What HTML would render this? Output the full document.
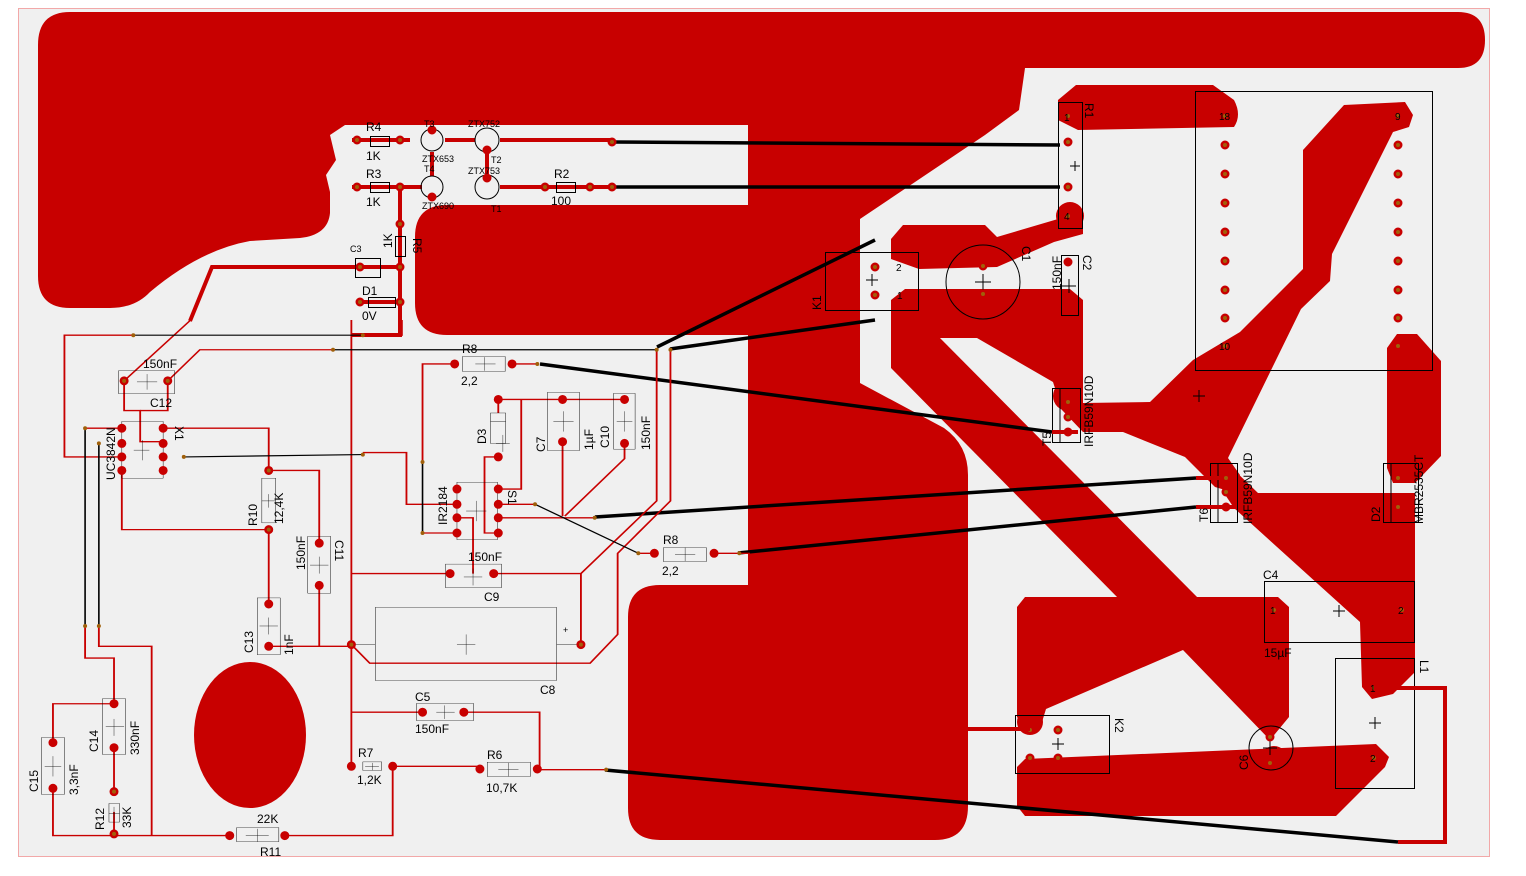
<!DOCTYPE html>
<html><head><meta charset="utf-8"><style>
html,body{margin:0;padding:0;background:#fff;}
svg{display:block;}
text{font-family:"Liberation Sans Narrow","Liberation Sans",sans-serif;font-size:12px;fill:#000;}
.b{fill:none;stroke:#000;stroke-width:1;vector-effect:non-scaling-stroke;}
.r{fill:none;stroke:#c80000;stroke-width:4;stroke-linejoin:miter;vector-effect:non-scaling-stroke;}
.k{fill:none;stroke:#000;stroke-width:3.5;vector-effect:non-scaling-stroke;}
.p{fill:none;stroke:#c80000;stroke-width:9;stroke-linecap:round;vector-effect:non-scaling-stroke;}
.d{fill:none;stroke:#a0600a;stroke-width:4;stroke-linecap:round;vector-effect:non-scaling-stroke;}
</style></head><body>
<svg width="1526" height="876" viewBox="0 0 1526 876" xmlns="http://www.w3.org/2000/svg">
<rect x="18.5" y="8.5" width="1471" height="848" fill="#f0f0f0" stroke="#f2a8a8"/>
<g fill="#c80000">
<path d="M38,45 Q38,12 70,12 H1458 Q1485,12 1485,40 Q1485,68 1458,68 H1025 L1019,110 L985,135 L860,219 V383 L944,428 Q968,445 968,475 V806 Q968,840 935,840 H660 Q628,840 628,808 V617 Q628,585 660,585 H748 V335 H447 Q415,335 415,303 V237 Q415,205 447,205 H748 V125 H345 L330,135 L336,160 L326,175 L330,192 V213 Q328,235 300,238 L250,241 Q200,250 150,292 Q135,308 110,308 H70 Q38,308 38,276 Z"/>
<ellipse cx="250" cy="735" rx="56" ry="73"/>
<polygon points="891,239 903,225 985,225 997,237 1058,219 1083,214 1083,234 1054,242 997,267 919,269 891,259"/>
<circle cx="1070" cy="216" r="14"/>
<path d="M1058,100 L1076,85 H1213 L1234,100 Q1242,115 1234,127 L1078,130 L1058,120 Z"/>
<polygon points="891,300 905,289 1070,289 1083,300 1083,403 1150,402 1193,360 1240,332 1303,269 1303,150 1344,105 1405,102 1413,115 1409,127 1393,132 1332,254 1330,281 1301,309 1228,458 1240,475 1232,492 1215,487 1185,457 1123,432 1083,432 1062,410 1053,382 977,338 891,338"/>
<circle cx="1068" cy="396" r="15"/>
<polygon points="891,336 938,336 1200,600 1120,600 891,368"/>
<polygon points="1017,607 1025,597 1278,597 1289,607 1289,717 1270,740 1183,650 1046,709 1042,722 1030,732 1017,717"/>
<circle cx="1030" cy="722" r="13"/>
<polygon points="1017,767 1025,759 1376,744 1389,757 1385,767 1336,816 1025,816 1017,806"/>
<circle cx="1274" cy="760" r="14"/>
<polygon points="1232,468 1258,493 1415,493 1415,672 1393,694 1372,699 1362,687 1360,622 1234,508 1222,490"/>
<polygon points="1387,348 1397,334 1417,334 1441,361 1441,456 1415,483 1393,483 1387,468"/>
</g>
<g>
<rect class="b" x="1195.5" y="91.5" width="237" height="279"/>
<rect class="b" x="1058.5" y="102.5" width="24" height="126"/>
<rect class="b" x="825.5" y="252.5" width="93" height="58"/>
<circle class="b" cx="983" cy="282" r="37"/>
<rect class="b" x="1061.5" y="255.5" width="17" height="60"/>
<rect class="b" x="1052.5" y="388.5" width="28" height="54"/>
<line class="b" x1="1060" y1="389" x2="1060" y2="442"/>
<rect class="b" x="1210.5" y="463.5" width="27" height="59"/>
<line class="b" x1="1218" y1="464" x2="1218" y2="522"/>
<rect class="b" x="1383.5" y="463.5" width="35" height="59"/>
<line class="b" x1="1391" y1="464" x2="1391" y2="522"/>
<rect class="b" x="1264.5" y="581.5" width="150" height="61"/>
<rect class="b" x="1335.5" y="658.5" width="79" height="130"/>
<rect class="b" x="1015.5" y="715.5" width="94" height="58"/>
<circle class="b" cx="1271" cy="748" r="22"/>
</g>
<g stroke="#000" stroke-width="1">
<path d="M1070,166 h10 M1075,161 v10 M866,280 h12 M872,274 v12 M975,282 h16 M983,274 v16 M1062,286 h14 M1069,279 v14 M1193,396 h12 M1199,390 v12 M1333,611 h12 M1339,605 v12 M1369,723 h12 M1375,717 v12 M1052,744 h12 M1058,738 v12 M1263,748 h14 M1270,741 v14"/>
</g>
<g>
<path class="p" d="M1068,116h0M1068,142h0M1068,187h0M1068,216h0M875,267h0M875,295h0M983,266h0M983,294h0M1068,262h0M1068,305h0M1068,402h0M1068,417h0M1068,432h0M1226,478h0M1226,492h0M1226,507h0M1398,478h0M1398,507h0M1274,610h0M1402,610h0M1374,688h0M1374,758h0M1030,730h0M1058,730h0M1030,758h0M1058,758h0M1270,737h0M1270,763h0"/>
<path class="p" d="M1225,116h0M1225,145h0M1225,174h0M1225,203h0M1225,232h0M1225,261h0M1225,290h0M1225,318h0M1225,346h0M1398,116h0M1398,145h0M1398,174h0M1398,203h0M1398,232h0M1398,261h0M1398,290h0M1398,318h0M1398,346h0"/>
<path class="d" d="M1068,116h0M1068,142h0M1068,187h0M1068,216h0M875,267h0M875,295h0M983,266h0M983,294h0M1068,402h0M1068,417h0M1068,432h0M1226,478h0M1226,492h0M1226,507h0M1398,478h0M1398,507h0M1274,610h0M1402,610h0M1374,688h0M1374,758h0M1030,730h0M1058,730h0M1030,758h0M1058,758h0M1270,737h0M1270,763h0M1225,116h0M1225,145h0M1225,174h0M1225,203h0M1225,232h0M1225,261h0M1225,290h0M1225,318h0M1225,346h0M1398,116h0M1398,145h0M1398,174h0M1398,203h0M1398,232h0M1398,261h0M1398,290h0M1398,318h0M1398,346h0"/>
</g>
<polyline class="r" points="1374,688 1445,688 1445,842 1398,842"/>
<polyline class="r" points="968,729 1030,729"/>
<polyline class="r" points="1052,432 1078,432"/>
<polyline class="r" points="1196,507 1236,507"/>
<polyline class="r" points="1196,478 1222,478"/>
<g class="k">
<line x1="612" y1="142" x2="1060" y2="145"/>
<line x1="612" y1="187" x2="1060" y2="187"/>
<polyline points="657,347 875,240"/>
<polyline points="670,349 875,320"/>
<line x1="540" y1="364" x2="1052" y2="432"/>
<line x1="595" y1="517" x2="1196" y2="478"/>
<line x1="738" y1="553" x2="1196" y2="507"/>
<line x1="605" y1="770" x2="1398" y2="842"/>
</g>
<g>
<polyline class="r" points="352,140 410,140"/>
<polyline class="r" points="445,140 475,140"/>
<polyline class="r" points="500,140 612,140"/>
<polyline class="r" points="352,187 422,187"/>
<polyline class="r" points="500,187 612,187"/>
<polyline class="r" points="487,152 487,176"/>
<polyline class="r" points="432,152 432,176"/>
<polyline class="r" points="400,187 400,335 351,335"/>
<polyline class="r" points="190,321 212,267 356,267"/>
<polyline class="r" points="356,267 400,267"/>
<polyline class="r" points="356,302 400,302"/>
<rect class="b" x="370.5" y="136.5" width="19" height="10"/>
<rect class="b" x="370.5" y="182.5" width="19" height="10"/>
<rect class="b" x="556.5" y="182.5" width="19" height="10"/>
<rect class="b" x="395.5" y="236.5" width="10" height="20"/>
<rect class="b" x="355.5" y="258.5" width="25" height="19"/>
<rect class="b" x="368.5" y="297.5" width="27" height="10"/>
<circle class="b" cx="432" cy="140" r="11"/>
<circle class="b" cx="432" cy="187" r="11"/>
<circle class="b" cx="487" cy="140" r="12"/>
<circle class="b" cx="487" cy="187" r="12"/>
<path class="p" d="M357,140h0M400,140h0M357,187h0M400,187h0M545,187h0M590,187h0M400,224h0M400,267h0M360,267h0M400,302h0M360,302h0M432,130h0M432,197h0M487,150h0M487,178h0M612,142h0M612,187h0"/>
<path class="d" d="M357,140h0M400,140h0M357,187h0M400,187h0M545,187h0M590,187h0M400,224h0M400,267h0M360,267h0M400,302h0M360,302h0M612,142h0M612,187h0"/>
</g>
<g style="font-size:11px">
<text x="366" y="131">R4</text><text x="366" y="160">1K</text>
<text x="366" y="178">R3</text><text x="366" y="206">1K</text>
<text x="424" y="127" style="font-size:9px">T3</text><text x="422" y="162" style="font-size:9px">ZTX653</text>
<text x="424" y="172" style="font-size:9px">T4</text><text x="422" y="209" style="font-size:9px">ZTX690</text>
<text x="468" y="127" style="font-size:9px">ZTX752</text><text x="491" y="163" style="font-size:9px">T2</text>
<text x="468" y="174" style="font-size:9px">ZTX753</text><text x="491" y="212" style="font-size:9px">T1</text>
<text x="554" y="178">R2</text><text x="551" y="205">100</text>
<text x="392" y="248" transform="rotate(-90 392 248)">1K</text>
<text x="413" y="238" transform="rotate(90 413 238)">R5</text>
<text x="350" y="252" style="font-size:9px">C3</text>
<text x="362" y="295">D1</text><text x="362" y="320">0V</text>
<text x="1085" y="103" transform="rotate(90 1085 103)">R1</text>
<text x="1064" y="121" style="font-size:10px">1</text><text x="1064" y="220" style="font-size:10px">4</text>
<text x="1219" y="120" style="font-size:10px">18</text><text x="1395" y="120" style="font-size:10px">9</text>
<text x="1219" y="350" style="font-size:10px">10</text>
<text x="896" y="271" style="font-size:10px">2</text><text x="897" y="299" style="font-size:10px">1</text>
<text x="821" y="310" transform="rotate(-90 821 310)">K1</text>
<text x="1022" y="246" transform="rotate(90 1022 246)">C1</text>
<text x="1061" y="290" transform="rotate(-90 1061 290)">150nF</text>
<text x="1083" y="255" transform="rotate(90 1083 255)">C2</text>
<text x="1093" y="447" transform="rotate(-90 1093 447)">IRFB59N10D</text>
<text x="1051" y="446" transform="rotate(-90 1051 446)">T5</text>
<text x="1252" y="524" transform="rotate(-90 1252 524)">IRFB59N10D</text>
<text x="1208" y="522" transform="rotate(-90 1208 522)">T6</text>
<text x="1380" y="522" transform="rotate(-90 1380 522)">D2</text>
<text x="1423" y="524" transform="rotate(-90 1423 524)">MBR2535CT</text>
<text x="1263" y="579">C4</text><text x="1264" y="657">15µF</text>
<text x="1270" y="614" style="font-size:10px">1</text><text x="1398" y="614" style="font-size:10px">2</text>
<text x="1370" y="692" style="font-size:10px">1</text><text x="1370" y="762" style="font-size:10px">2</text>
<text x="1420" y="660" transform="rotate(90 1420 660)">L1</text>
<text x="1115" y="718" transform="rotate(90 1115 718)">K2</text>
<text x="1248" y="770" transform="rotate(-90 1248 770)">C6</text>
</g>
<g transform="translate(30,320) scale(0.4591,0.3381)">
<g class="r">
<polyline points="225,45 75,45 75,405 200,405"/>
<polyline points="725,45 810,45 810,0"/>
<polyline points="205,180 350,0"/>
<polyline points="300,180 370,88 660,88"/>
<polyline points="205,180 205,268 240,268 240,360 290,360"/>
<polyline points="300,180 300,268 240,268"/>
<polyline points="200,320 120,320"/>
<polyline points="120,905 120,1000 183,1000 183,1135"/>
<polyline points="150,905 150,965 265,965 265,1525"/>
<polyline points="290,320 520,320 520,445 630,445 630,660"/>
<polyline points="725,392 820,392 820,545 930,545"/>
<polyline points="200,445 200,620 520,620 520,835"/>
<polyline points="520,965 700,965"/>
<polyline points="630,785 630,965"/>
<polyline points="700,0 700,1320"/>
<polyline points="700,750 915,750"/>
<polyline points="1010,750 1200,750 1200,960"/>
<polyline points="1200,750 1365,535 1365,88"/>
<polyline points="700,960 740,1015 1220,1015 1280,930 1280,690 1395,535 1395,88"/>
<polyline points="700,1160 855,1160"/>
<polyline points="945,1160 1110,1160 1110,1330 1255,1330"/>
<polyline points="790,1320 980,1320"/>
<polyline points="790,1320 790,1525 555,1525"/>
<polyline points="435,1525 50,1525 50,1385"/>
<polyline points="50,1250 50,1135 183,1135"/>
<polyline points="183,1265 183,1395"/>
<polyline points="183,1455 183,1525"/>
<polyline points="925,130 855,130 855,420"/>
<polyline points="855,630 930,630"/>
<polyline points="1050,130 1105,130"/>
<polyline points="1020,235 1295,235"/>
<polyline points="1020,235 1020,275"/>
<polyline points="1020,405 990,405 990,630 1020,630"/>
<polyline points="1070,235 1070,500 1020,500"/>
<polyline points="1160,360 1160,580"/>
<polyline points="1295,365 1295,410 1165,580"/>
<polyline points="1020,585 1230,585"/>
<polyline points="1020,545 1100,545"/>
<polyline points="1325,690 1360,690"/>
<polyline points="1490,690 1568,690"/>
<polyline points="930,585 965,585 965,750"/>
</g>
<g class="k">
<polyline points="225,45 725,45"/>
<polyline points="660,88 1365,88"/>
<polyline points="120,320 120,905"/>
<polyline points="150,365 150,905"/>
<polyline points="335,405 725,398"/>
<polyline points="855,420 855,630"/>
<polyline points="1100,545 1325,690"/>
</g>
<g class="b">
<rect x="193" y="150" width="122" height="68"/>
<rect x="200" y="300" width="90" height="168"/>
<rect x="505" y="468" width="30" height="132"/>
<rect x="605" y="640" width="50" height="168"/>
<rect x="495" y="822" width="50" height="168"/>
<rect x="905" y="722" width="122" height="70"/>
<rect x="752" y="850" width="395" height="216"/>
<line x1="700" y1="960" x2="752" y2="960"/><line x1="1147" y1="960" x2="1200" y2="960"/>
<rect x="930" y="480" width="88" height="170"/>
<rect x="1003" y="275" width="33" height="90"/>
<line x1="1003" y1="300" x2="1036" y2="300"/>
<rect x="1127" y="214" width="70" height="172"/>
<rect x="1271" y="217" width="47" height="165"/>
<rect x="942" y="108" width="93" height="44"/>
<rect x="1380" y="673" width="93" height="42"/>
<rect x="842" y="1134" width="124" height="51"/>
<rect x="725" y="1307" width="41" height="25"/>
<rect x="996" y="1308" width="94" height="42"/>
<rect x="450" y="1502" width="92" height="41"/>
<rect x="158" y="1120" width="50" height="165"/>
<rect x="25" y="1235" width="50" height="168"/>
<rect x="172" y="1430" width="23" height="55"/>
</g>
<g class="b">
<path d="M233,183h44M255,160v46M226,385h34M245,355v60M505,535h30M520,515v40M610,725h40M630,700v50M500,905h40M520,880v50M945,760h40M965,735v50M930,960h40M950,930v60M950,565h44M972,535v60M1015,365h30M1030,340v50M1140,300h44M1162,270v60M1278,300h34M1295,270v60M970,130h44M990,110v40M1405,693h44M1427,673v40M885,1160h40M903,1140v40M730,1320h30M746,1310v22M1020,1330h44M1042,1310v40M470,1525h50M495,1505v38M165,1203h40M183,1180v50M32,1320h36M50,1290v60M172,1460h23M183,1440v40"/>
</g>
<g>
<path class="p" d="M205,180h0M300,180h0M200,320h0M290,320h0M200,365h0M290,365h0M200,405h0M290,405h0M200,445h0M290,445h0M520,445h0M520,620h0M630,660h0M630,785h0M520,840h0M520,965h0M700,960h0M915,750h0M1010,750h0M1200,960h0M930,500h0M930,545h0M930,585h0M930,630h0M1020,500h0M1020,545h0M1020,585h0M1020,630h0M1020,235h0M1020,405h0M1160,235h0M1160,360h0M1295,235h0M1295,365h0M925,130h0M1050,130h0M1360,690h0M1490,690h0M855,1160h0M945,1160h0M700,1320h0M790,1320h0M980,1328h0M1105,1328h0M435,1525h0M555,1525h0M183,1135h0M183,1265h0M50,1250h0M50,1385h0M183,1395h0M183,1520h0"/>
<path class="d" d="M225,45h0M725,45h0M660,88h0M1365,88h0M1395,88h0M120,320h0M150,365h0M120,905h0M150,905h0M335,405h0M725,398h0M855,420h0M855,630h0M1105,130h0M1100,545h0M1230,585h0M1325,690h0M1255,1330h0M1545,690h0M205,180h0M300,180h0M520,445h0M520,620h0M700,960h0M1200,960h0M183,1395h0M183,1520h0"/>
</g>
</g>
<g style="font-size:12px">
<text x="143" y="368">150nF</text><text x="150" y="407">C12</text>
<text x="115" y="480" transform="rotate(-90 115 480)">UC3842N</text>
<text x="175" y="426" transform="rotate(90 175 426)">X1</text>
<text x="257" y="526" transform="rotate(-90 257 526)">R10</text>
<text x="283" y="524" transform="rotate(-90 283 524)">12,4K</text>
<text x="305" y="570" transform="rotate(-90 305 570)">150nF</text>
<text x="335" y="540" transform="rotate(90 335 540)">C11</text>
<text x="253" y="653" transform="rotate(-90 253 653)">C13</text>
<text x="293" y="655" transform="rotate(-90 293 655)">1nF</text>
<text x="468" y="561">150nF</text><text x="484" y="601">C9</text>
<text x="540" y="694">C8</text>
<text x="563" y="633" style="font-size:9px">+</text>
<text x="447" y="525" transform="rotate(-90 447 525)">IR2184</text>
<text x="508" y="490" transform="rotate(90 508 490)">S1</text>
<text x="486" y="444" transform="rotate(-90 486 444)">D3</text>
<text x="545" y="452" transform="rotate(-90 545 452)">C7</text>
<text x="593" y="450" transform="rotate(-90 593 450)">1µF</text>
<text x="609" y="448" transform="rotate(-90 609 448)">C10</text>
<text x="650" y="450" transform="rotate(-90 650 450)">150nF</text>
<text x="462" y="353">R8</text><text x="461" y="385">2,2</text>
<text x="663" y="544">R8</text><text x="662" y="575">2,2</text>
<text x="415" y="701">C5</text><text x="415" y="733">150nF</text>
<text x="358" y="757">R7</text><text x="357" y="784">1,2K</text>
<text x="487" y="759">R6</text><text x="486" y="792">10,7K</text>
<text x="257" y="823">22K</text><text x="260" y="856">R11</text>
<text x="98" y="752" transform="rotate(-90 98 752)">C14</text>
<text x="139" y="755" transform="rotate(-90 139 755)">330nF</text>
<text x="38" y="792" transform="rotate(-90 38 792)">C15</text>
<text x="78" y="795" transform="rotate(-90 78 795)">3,3nF</text>
<text x="104" y="830" transform="rotate(-90 104 830)">R12</text>
<text x="131" y="828" transform="rotate(-90 131 828)">33K</text>
</g>
</svg>
</body></html>
